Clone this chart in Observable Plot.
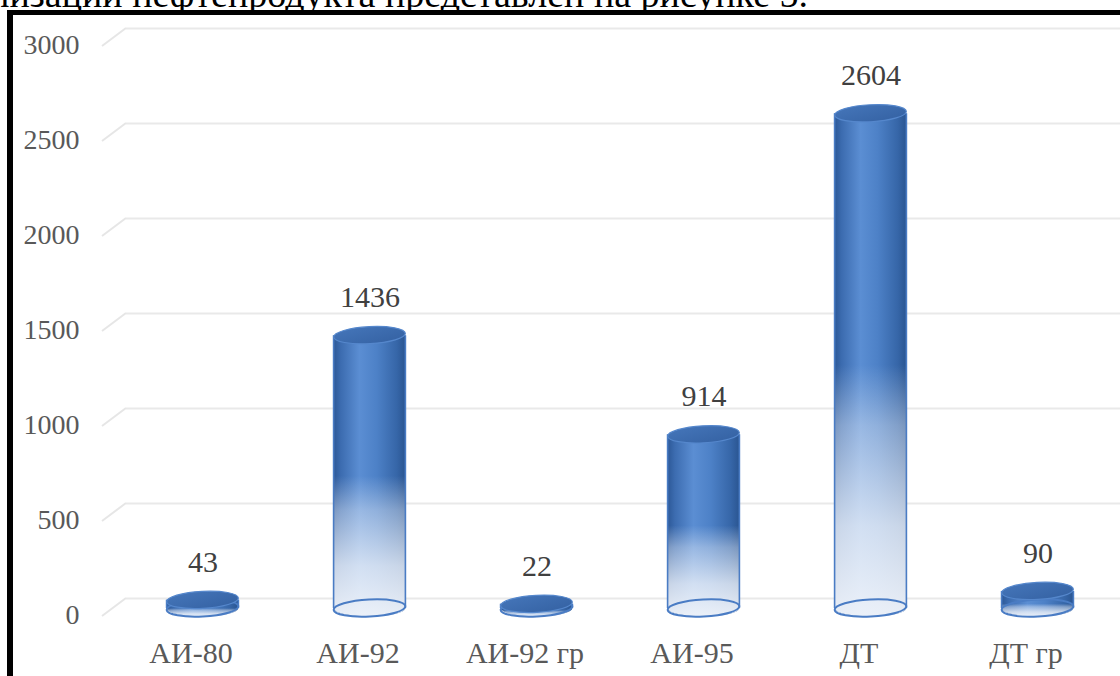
<!DOCTYPE html>
<html>
<head>
<meta charset="utf-8">
<script src="https://cdn.jsdelivr.net/npm/d3@7"></script>
<script src="https://cdn.jsdelivr.net/npm/@observablehq/plot@0.6"></script>
<style>
  html, body { margin: 0; padding: 0; background: #fff; overflow: hidden; }
  #page { position: relative; width: 1120px; height: 676px; overflow: hidden; background: #fff; }
  #lead { position: absolute; right: 312px; top: -25px; white-space: nowrap;
          font: 38px/38px "Liberation Serif", "Times New Roman", serif; color: #000; }
  #chart { position: absolute; left: 0; top: 0; }
  #frame { position: absolute; left: 7px; top: 10px; width: 1300px; height: 900px;
           border-left: 6px solid #000; border-top: 5px solid #000; box-sizing: border-box;
           pointer-events: none; }
</style>
</head>
<body>
<div id="page">
  <div id="lead">реализации нефтепродукта представлен на рисунке 5.</div>
  <div id="chart"></div>
  <div id="frame"></div>
</div>
<script>
// Объём реализации по видам нефтепродуктов
const categories = ["АИ-80", "АИ-92", "АИ-92 гр", "АИ-95", "ДТ", "ДТ гр"];
const volumes = [43, 1436, 22, 914, 2604, 90];
const yTicks = [0, 500, 1000, 1500, 2000, 2500, 3000];

const rows = categories.map((fuel, i) => ({fuel, volume: volumes[i]}));

// pseudo-3D look: columns sit a little in front of the back wall
const DEPTH = 10;
const RY = 8.5;

function bandCenter(scales, key) {
  const x = scales.x;
  let bw = x.bandwidth ? x.bandwidth() : 0;
  if (!bw) bw = Math.abs(x(categories[1]) - x(categories[0]));
  return [x(key) + bw / 2, bw];
}

// thin slanted edges of the floor/wall on the left end of every gridline
function wallEdges(index, scales, values, dimensions) {
  const g = d3.create("svg:g").attr("stroke", "#e6e6e6").attr("stroke-width", 2).attr("fill", "none");
  for (const t of yTicks) {
    const y = scales.y(t);
    g.append("line")
      .attr("x1", dimensions.marginLeft - 24).attr("y1", y + 18)
      .attr("x2", dimensions.marginLeft).attr("y2", y);
  }
  return g.node();
}

// cylinder columns
function cylinders(index, scales, values, dimensions) {
  const g = d3.create("svg:g");
  const defs = g.append("defs");

  const side = defs.append("linearGradient").attr("id", "cyl-side")
    .attr("x1", 0).attr("x2", 1).attr("y1", 0).attr("y2", 0);
  [[0, "#2c5897"], [0.1, "#3c6cb0"], [0.36, "#5b8ed3"], [0.6, "#4d81c7"], [0.88, "#3666a8"], [1, "#2a5591"]]
    .forEach(([o, c]) => side.append("stop").attr("offset", o).attr("stop-color", c));

  const fade = defs.append("linearGradient").attr("id", "cyl-fade")
    .attr("x1", 0).attr("x2", 0).attr("y1", 0).attr("y2", 1);
  [[0, 0], [0.5, 0], [0.62, 0.4], [0.82, 0.78], [1, 0.95]]
    .forEach(([o, a]) => fade.append("stop").attr("offset", o).attr("stop-color", "#f3f6fb").attr("stop-opacity", a));

  const cap = defs.append("linearGradient").attr("id", "cyl-cap")
    .attr("x1", 0).attr("x2", 1).attr("y1", 0).attr("y2", 1);
  [[0, "#4576ba"], [1, "#3461a2"]]
    .forEach(([o, c]) => cap.append("stop").attr("offset", o).attr("stop-color", c));

  for (const d of rows) {
    const [cx, bw] = bandCenter(scales, d.fuel);
    const rx = bw * 0.215;
    const yt = scales.y(d.volume) + DEPTH;
    const yb = scales.y(0) + DEPTH;
    const body = `M${cx - rx},${yt} L${cx - rx},${yb} A${rx},${RY} 0 0 0 ${cx + rx},${yb} L${cx + rx},${yt} Z`;
    g.append("path").attr("d", body).attr("fill", "url(#cyl-side)");
    g.append("path").attr("d", body).attr("fill", "url(#cyl-fade)");
    g.append("ellipse")
      .attr("cx", cx).attr("cy", yb).attr("rx", rx).attr("ry", RY)
      .attr("transform", `rotate(-3 ${cx} ${yb})`)
      .attr("fill", "none").attr("stroke", "#4a7cc4").attr("stroke-width", 2);
    g.append("path").attr("d", `M${cx - rx},${yt} L${cx - rx},${yb} M${cx + rx},${yb} L${cx + rx},${yt}`)
      .attr("fill", "none").attr("stroke", "#4a7cc4").attr("stroke-width", 1.6);
    g.append("ellipse")
      .attr("cx", cx).attr("cy", yt).attr("rx", rx).attr("ry", RY)
      .attr("transform", `rotate(-3 ${cx} ${yt})`)
      .attr("fill", "url(#cyl-cap)").attr("stroke", "#5587cc").attr("stroke-width", 1.2);
  }
  return g.node();
}

const chart = Plot.plot({
  width: 1120,
  height: 676,
  marginLeft: 126,
  marginRight: 0,
  marginTop: 28,
  marginBottom: 78,
  x: {type: "band", domain: categories, range: [117, 1122], padding: 0, axis: null},
  y: {domain: [0, 3000], axis: null},
  style: {background: "transparent", fontFamily: "'Liberation Serif', 'Times New Roman', serif"},
  marks: [
    Plot.ruleY(yTicks, {stroke: "#e9e9e9", strokeWidth: 2}),
    wallEdges,
    Plot.text(yTicks, {y: d => d, text: d => String(d), frameAnchor: "left", textAnchor: "end",
      dx: -47, dy: 17, fontSize: 28, fill: "#595959"}),
    cylinders,
    Plot.text(rows, {x: "fuel", y: "volume", text: d => String(d.volume), dy: -28,
      fontSize: 30, fill: "#404040"}),
    Plot.text(categories, {x: d => d, text: d => d, frameAnchor: "bottom", dx: -12, dy: 64,
      fontSize: 30, fill: "#595959"})
  ]
});

document.getElementById("chart").appendChild(chart);
</script>
</body>
</html>
